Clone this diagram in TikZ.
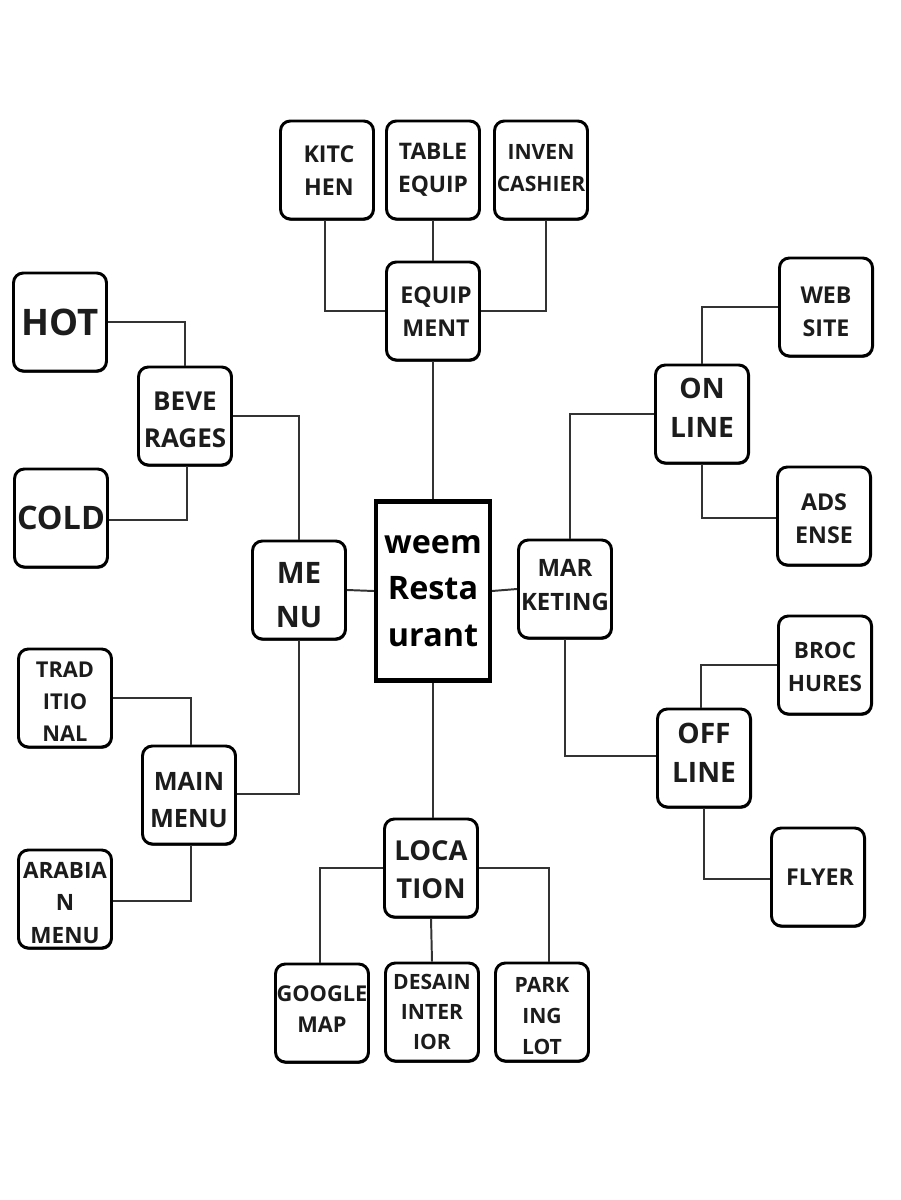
\documentclass[tikz,border=0pt]{standalone}
\usepackage{fontspec}
\setmainfont{Open Sans}
\usetikzlibrary{shadows}
\definecolor{txt}{HTML}{1C1C1C}
\definecolor{linec}{HTML}{333333}
\newcommand{\setfs}[2]{\bfseries\fontsize{#1}{#2}\selectfont}
\tikzset{
  box/.style={draw=black, line width=2.1pt, rounded corners=7pt, fill=white,
    minimum width=2.325cm, minimum height=2.45cm, inner sep=0pt,
    drop shadow={shadow xshift=0.4pt, shadow yshift=-1.3pt, opacity=0.75, fill=black}},
  tx/.style={align=center, text=txt, inner sep=0pt},
  dn/.style={yshift={-#1*0.025cm}},
  rt/.style={xshift={#1*0.025cm}},
  hub/.style={draw=black, line width=3pt, fill=white, minimum width=2.85cm,
    minimum height=4.475cm, inner sep=0pt, align=center, text=black},
  link/.style={draw=linec, line width=1.4pt}
}
\begin{document}
\begin{tikzpicture}[x=0.025cm,y=-0.025cm]
\useasboundingbox[fill=white] (0,0) rectangle (900,1200);
% top
\node[box, label={[tx, font=\setfs{16.5}{23.5}, dn=1, rt=2]center:{KITC\\HEN}}] (kit) at (327,170) {};
\node[box, label={[tx, font=\setfs{16.2}{23.5}]center:{TABLE\\EQUIP}}] (tab) at (433,170) {};
\node[box, label={[tx, font=\setfs{15}{22.5}, dn=-2]center:{INVEN\\CASHIER}}] (inv) at (541,170) {};
\node[box, label={[tx, font=\setfs{16.5}{23.5}, dn=1, rt=3]center:{EQUIP\\MENT}}] (equ) at (433,311) {};
% left
\node[box, label={[tx, font=\setfs{26}{30}]center:{HOT}}] (hot) at (60,322) {};
\node[box, label={[tx, font=\setfs{18.5}{26}, dn=4]center:{BEVE\\RAGES}}] (bev) at (185,416) {};
\node[box, label={[tx, font=\setfs{23}{28}]center:{COLD}}] (cold) at (61,518) {};
\node[box, label={[tx, font=\setfs{21}{31}, dn=5]center:{ME\\NU}}] (menu) at (299,590) {};
\node[box, label={[tx, font=\setfs{15.5}{22.8}, dn=4]center:{TRAD\\ITIO\\NAL}}] (trad) at (65,698) {};
\node[box, label={[tx, font=\setfs{18}{26.5}, dn=5]center:{MAIN\\MENU}}] (main) at (189,795) {};
\node[box, label={[tx, font=\setfs{16}{22.8}, dn=4]center:{ARABIA\\N\\MENU}}] (arab) at (65,899) {};
% centre
\node[hub, font=\setfs{23}{33}] (hub) at (433,591) {weem\\Resta\\urant};
% right
\node[box, label={[tx, font=\setfs{17}{24}, dn=-4]center:{MAR\\KETING}}] (mkt) at (565,589) {};
\node[box, label={[tx, font=\setfs{16.5}{23.5}, dn=5]center:{WEB\\SITE}}] (web) at (826,307) {};
\node[box, label={[tx, font=\setfs{20}{27.5}, dn=-6]center:{ON\\LINE}}] (onl) at (702,414) {};
\node[box, label={[tx, font=\setfs{16.5}{23.5}, dn=3]center:{ADS\\ENSE}}] (ads) at (824,516) {};
\node[box, label={[tx, font=\setfs{16}{24}, dn=2]center:{BROC\\HURES}}] (bro) at (825,665) {};
\node[box, label={[tx, font=\setfs{20}{27.5}, dn=-5]center:{OFF\\LINE}}] (off) at (704,758) {};
\node[box, label={[tx, font=\setfs{16.5}{24}, rt=2]center:{FLYER}}] (fly) at (818,877) {};
% bottom
\node[box, label={[tx, font=\setfs{19.5}{27}, dn=2]center:{LOCA\\TION}}] (loc) at (431,868) {};
\node[box, label={[tx, font=\setfs{15.5}{22}, dn=-4]center:{GOOGLE\\MAP}}] (goo) at (322,1013) {};
\node[box, label={[tx, font=\setfs{15}{21.5}]center:{DESAIN\\INTER\\IOR}}] (des) at (432,1012) {};
\node[box, label={[tx, font=\setfs{15}{22.3}, dn=4]center:{PARK\\ING\\LOT}}] (par) at (542,1012) {};
% connectors
\draw[link] ([xshift=-0.05cm]kit.south) |- (equ.west);
\draw[link] (tab.south) -- (equ.north);
\draw[link] ([xshift=0.125cm]inv.south) |- (equ.east);
\draw[link] (equ.south) -- (hub.north);
\draw[link] (hot.east) -| (bev.north);
\draw[link] ([yshift=-0.05cm]cold.east) -| ([xshift=0.05cm]bev.south);
\draw[link] (bev.east) -| (menu.north);
\draw[link] (menu.east) -- (hub.west);
\draw[link] (menu.south) |- ([yshift=0.025cm]main.east);
\draw[link] (trad.east) -| ([xshift=0.05cm]main.north);
\draw[link] ([yshift=-0.05cm]arab.east) -| ([xshift=0.05cm]main.south);
\draw[link] (hub.east) -- (mkt.west);
\draw[link] ([xshift=0.125cm]mkt.north) |- (onl.west);
\draw[link] (onl.north) |- (web.west);
\draw[link] (onl.south) |- ([yshift=-0.05cm]ads.west);
\draw[link] (mkt.south) |- ([yshift=0.05cm]off.west);
\draw[link] ([xshift=-0.075cm]off.north) |- (bro.west);
\draw[link] (off.south) |- ([yshift=-0.05cm]fly.west);
\draw[link] (hub.south) -- (hub.south |- loc.north);
\draw[link] (loc.west) -| ([xshift=-0.05cm]goo.north);
\draw[link] (loc.south) -- (des.north);
\draw[link] (loc.east) -| ([xshift=0.175cm]par.north);
\end{tikzpicture}
\end{document}
